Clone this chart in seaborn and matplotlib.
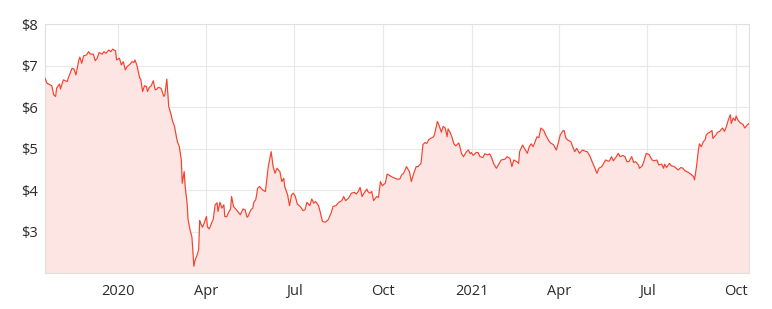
import numpy as np
import pandas as pd
import matplotlib
matplotlib.use("Agg")
import matplotlib.pyplot as plt
import seaborn as sns

# days since 2020-01-01 and closing price ($)
days = [-76, -74, -69, -67, -65, -64, -61, -60, -57, -53, -52, -48, -46, -44, -41, -40, -38, -36, -33, -31,
        -29, -26, -24, -22, -20, -17, -15, -13, -10, -8, -6, -3, -2, 1, 3, 5, 7, 9, 12, 14,
        16, 17, 19, 22, 23, 25, 27, 29, 30, 32, 34, 36, 38, 40, 41, 44, 47, 48, 50, 52,
        54, 56, 58, 60, 61, 63, 65, 66, 68, 69, 71, 72, 74, 76, 78, 79, 82, 83, 84, 85,
        87, 89, 91, 92, 94, 97, 98, 100, 102, 103, 105, 107, 109, 110, 112, 114, 116, 117, 119, 122,
        126, 129, 131, 133, 134, 137, 139, 140, 142, 144, 146, 149, 152, 155, 158, 160, 162, 164, 167, 169,
        171, 172, 175, 177, 179, 181, 183, 185, 188, 191, 193, 195, 198, 200, 202, 204, 207, 209, 211, 214,
        217, 220, 222, 225, 228, 231, 233, 235, 238, 241, 244, 246, 248, 250, 252, 254, 257, 258, 260, 262,
        264, 267, 269, 271, 273, 276, 278, 281, 284, 288, 291, 293, 295, 298, 301, 303, 305, 308, 310, 313,
        315, 317, 319, 321, 323, 326, 327, 330, 332, 334, 336, 338, 340, 341, 343, 345, 347, 349, 352, 353,
        355, 357, 360, 362, 364, 365, 367, 370, 372, 374, 377, 379, 382, 384, 386, 388, 391, 394, 396, 400,
        402, 405, 407, 409, 412, 414, 415, 418, 421, 423, 425, 427, 429, 431, 433, 435, 437, 440, 442, 445,
        447, 450, 453, 455, 457, 460, 461, 463, 465, 468, 470, 472, 474, 476, 477, 480, 483, 485, 488, 490,
        493, 495, 497, 500, 502, 504, 507, 508, 510, 512, 515, 517, 519, 522, 524, 526, 528, 531, 533, 535,
        538, 539, 542, 544, 546, 549, 552, 554, 557, 559, 562, 564, 565, 567, 570, 572, 575, 577, 579, 582,
        584, 586, 588, 591, 593, 595, 596, 598, 600, 601, 603, 605, 607, 608, 610, 612, 614, 615, 618, 620,
        622, 625, 627, 629, 631, 633, 634, 636, 638, 639, 641, 643, 646, 648, 650, 652]
price = [6.70, 6.58, 6.52, 6.30, 6.26, 6.46, 6.56, 6.44, 6.66, 6.62, 6.70, 6.94, 6.92, 6.78, 7.14, 7.21, 7.06, 7.24, 7.26, 7.34,
         7.28, 7.28, 7.12, 7.18, 7.32, 7.28, 7.34, 7.30, 7.38, 7.34, 7.40, 7.36, 7.14, 7.18, 7.02, 7.10, 6.90, 6.98, 7.04, 7.10,
         7.08, 7.14, 7.02, 6.70, 6.68, 6.38, 6.52, 6.50, 6.38, 6.48, 6.52, 6.64, 6.42, 6.44, 6.48, 6.46, 6.26, 6.30, 6.68, 6.02,
         5.86, 5.66, 5.54, 5.28, 5.17, 5.05, 4.73, 4.17, 4.45, 4.09, 3.69, 3.29, 3.05, 2.87, 2.17, 2.29, 2.49, 2.58, 3.27, 3.20,
         3.11, 3.23, 3.37, 3.12, 3.07, 3.25, 3.29, 3.65, 3.70, 3.49, 3.71, 3.57, 3.65, 3.37, 3.36, 3.47, 3.55, 3.85, 3.61, 3.53,
         3.41, 3.55, 3.53, 3.35, 3.37, 3.53, 3.57, 3.71, 3.77, 4.05, 4.09, 4.01, 3.97, 4.57, 4.93, 4.57, 4.41, 4.53, 4.45, 4.21,
         4.29, 4.09, 3.89, 3.63, 3.89, 3.93, 3.85, 3.67, 3.61, 3.51, 3.53, 3.71, 3.63, 3.79, 3.69, 3.73, 3.63, 3.45, 3.25, 3.23,
         3.29, 3.45, 3.61, 3.63, 3.71, 3.75, 3.85, 3.75, 3.81, 3.93, 3.95, 3.91, 3.97, 4.07, 3.85, 3.93, 4.03, 3.97, 3.93, 3.97,
         3.75, 3.85, 3.83, 4.21, 4.11, 4.17, 4.39, 4.35, 4.31, 4.27, 4.27, 4.37, 4.41, 4.57, 4.45, 4.21, 4.37, 4.57, 4.57, 4.65,
         5.10, 5.15, 5.13, 5.22, 5.25, 5.29, 5.35, 5.66, 5.54, 5.40, 5.54, 5.50, 5.29, 5.48, 5.40, 5.28, 5.12, 5.07, 5.14, 5.07,
         4.88, 4.81, 4.93, 4.97, 4.88, 4.91, 4.84, 4.91, 4.91, 4.81, 4.79, 4.88, 4.85, 4.88, 4.79, 4.65, 4.53, 4.65, 4.73, 4.75,
         4.81, 4.77, 4.57, 4.73, 4.69, 4.65, 4.93, 5.09, 4.97, 4.89, 5.05, 5.12, 5.05, 5.17, 5.29, 5.27, 5.50, 5.44, 5.33, 5.20,
         5.14, 5.10, 4.97, 5.14, 5.33, 5.44, 5.44, 5.25, 5.21, 5.17, 5.05, 4.93, 5.01, 4.93, 4.89, 4.97, 4.94, 4.93, 4.81, 4.69,
         4.53, 4.41, 4.53, 4.57, 4.65, 4.73, 4.70, 4.71, 4.81, 4.71, 4.81, 4.89, 4.81, 4.84, 4.81, 4.69, 4.69, 4.81, 4.67, 4.69,
         4.61, 4.53, 4.59, 4.73, 4.89, 4.86, 4.73, 4.71, 4.73, 4.61, 4.63, 4.53, 4.63, 4.55, 4.65, 4.59, 4.57, 4.53, 4.49, 4.55,
         4.53, 4.47, 4.45, 4.41, 4.37, 4.33, 4.25, 4.57, 4.97, 5.12, 5.05, 5.17, 5.22, 5.33, 5.38, 5.40, 5.44, 5.25, 5.33, 5.40,
         5.42, 5.50, 5.42, 5.54, 5.70, 5.82, 5.61, 5.74, 5.68, 5.79, 5.69, 5.63, 5.59, 5.50, 5.56, 5.61]

tick_dates = ["2020-01-01", "2020-04-01", "2020-07-01", "2020-10-01",
              "2021-01-01", "2021-04-01", "2021-07-01", "2021-10-01"]
tick_labels = ["2020", "Apr", "Jul", "Oct", "2021", "Apr", "Jul", "Oct"]
y_ticks = [3, 4, 5, 6, 7, 8]
y_labels = ["$3", "$4", "$5", "$6", "$7", "$8"]

dates = pd.Timestamp("2020-01-01") + pd.to_timedelta(days, unit="D")
df = pd.DataFrame({"date": dates, "price": price})

sns.set_theme(style="white")
plt.rcParams["font.family"] = ["Open Sans", "DejaVu Sans"]

fig = plt.figure(figsize=(7.72, 3.09), dpi=100)
ax = fig.add_axes([0.0583, 0.1155, 0.9115, 0.806])

line_color = "#f5412d"
ax.fill_between(df["date"], df["price"], 2.0, color="#fce5e3", linewidth=0, zorder=1)
sns.lineplot(data=df, x="date", y="price", ax=ax, color=line_color, linewidth=0.85, zorder=3)

ax.set_xlim(df["date"].iloc[0], df["date"].iloc[-1])
ax.set_ylim(2.0, 8.0)
ax.set_xticks(pd.to_datetime(tick_dates))
ax.set_xticklabels(tick_labels)
ax.set_yticks(y_ticks)
ax.set_yticklabels(y_labels)
ax.set_xlabel("")
ax.set_ylabel("")

ax.grid(True, color="#e8e8e8", linewidth=0.8, zorder=0)
ax.set_axisbelow(True)
for s in ax.spines.values():
    s.set_color("#e0e0e0")
    s.set_linewidth(0.8)
ax.tick_params(axis="both", length=0, labelsize=10.5, colors="#2b2b2b")
ax.tick_params(axis="x", pad=8)
ax.tick_params(axis="y", pad=5)

fig.savefig("out.png", dpi=100)
